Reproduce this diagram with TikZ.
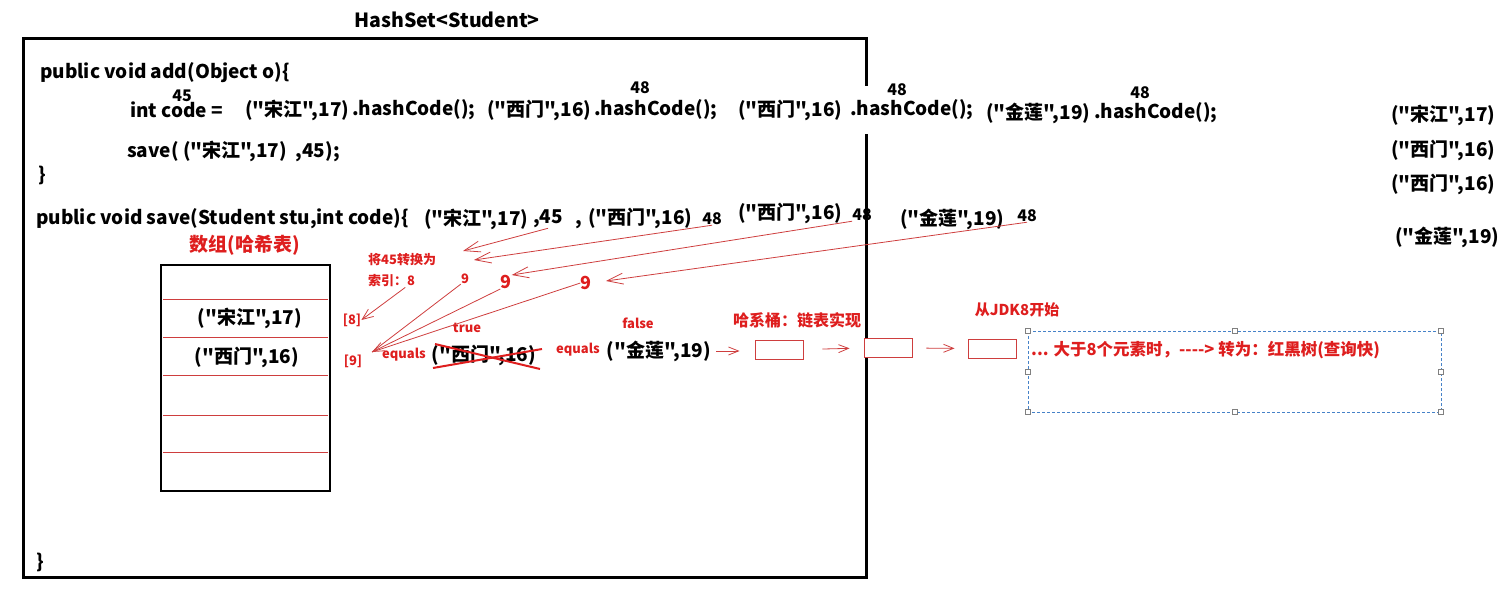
\documentclass[tikz,border=0pt]{standalone}
\usepackage{fontspec}
\newfontfamily\yahei{Noto Sans CJK SC}
\usetikzlibrary{arrows.meta}
\definecolor{inkred}{RGB}{222,30,30}
\definecolor{penred}{RGB}{206,62,62}
\definecolor{selblue}{RGB}{70,130,200}

\begin{document}
\begin{tikzpicture}[x=1pt, y=-1pt,
  code/.style={font=\yahei\fontsize{19}{21}\selectfont\bfseries, inner sep=0pt},
  num/.style={font=\yahei\fontsize{16}{18}\selectfont\bfseries, inner sep=0pt},
  note/.style={text=inkred, font=\yahei\fontsize{13}{15}\selectfont\bfseries, inner sep=0pt},
  bignote/.style={text=inkred, font=\yahei\fontsize{18}{20}\selectfont\bfseries, inner sep=0pt},
  headnote/.style={text=inkred, font=\yahei\fontsize{16}{18}\selectfont\bfseries, inner sep=0pt},
  pen/.style={draw=penred, line width=0.8pt, -{Straight Barb[length=16pt,width=11pt]}},
  slot/.style={draw=penred, line width=0.9pt, minimum width=48pt, minimum height=19pt, inner sep=0pt},
  chain/.style={draw=penred, line width=0.8pt, -{Straight Barb[length=10pt,width=8pt]}},
  handle/.style={draw=gray, fill=white, line width=0.6pt, minimum size=5pt, inner sep=0pt},
]
\useasboundingbox (0,0) rectangle (1510,613);

\node[code, font=\yahei\fontsize{19.5}{21}\selectfont\bfseries] (title) at (447,20) {HashSet<Student>};
\draw[line width=3pt] (23,38) rectangle (866,577);

\node[code, anchor=west] (addsig) at (40,73) {public void add(Object o)\{};
\node[num] (h45) at (182,96) {45};
\node[code, anchor=west] (intcode) at (130,110) {int code =};
\node[code, anchor=west] (sj1) at (245,110) {("宋江",17)};
\node[code, anchor=west] (hash1) at (352,110) {.hashCode();};
\node[code, anchor=west] (xm1) at (487,110) {("西门",16)};
\node[code, anchor=west] (hash2) at (594,110) {.hashCode();};
\node[num] (h48a) at (640,88) {48};
\node[code, anchor=west] (xm2) at (738,110) {("西门",16)};
\node[code, anchor=west, fill=white, inner ysep=14pt] (hash3) at (850,110) {.hashCode();};
\node[num] (h48b) at (897,90) {48};
\node[code, anchor=west] (jl1) at (986,113) {("金莲",19)};
\node[code, anchor=west] (hash4) at (1094,113) {.hashCode();};
\node[num] (h48c) at (1140,93) {48};
\node[code, anchor=west] (savecall) at (127,151) {save( ("宋江",17)\ \ ,45);};
\node[code, anchor=west] (addend) at (38,175) {\}};

\node[code, anchor=west] (savesig) at (36,219) {public void save(Student stu,int code)\{};
\node[code, anchor=west] (arg1) at (424,219) {("宋江",17)};
\node[code, anchor=west] (c45) at (533,219) {,45};
\node[code] (comma) at (579,225) {,};
\node[code, anchor=west] (arg2) at (588,218) {("西门",16)};
\node[num] (k48a) at (712,219) {48};
\node[code, anchor=west] (arg3) at (738,213) {("西门",16)};
\node[num] (k48b) at (862,215) {48};
\node[code, anchor=west] (arg4) at (900,219) {("金莲",19)};
\node[num] (k48c) at (1027,216) {48};

\node[code, anchor=west] (set1) at (1391,115) {("宋江",17)};
\node[code, anchor=west] (set2) at (1391,150) {("西门",16)};
\node[code, anchor=west] (set3) at (1391,184) {("西门",16)};
\node[code, anchor=west] (set4) at (1395,237) {("金莲",19)};

% the array
\node[bignote, font=\yahei\fontsize{19}{21}\selectfont\bfseries] (arrtitle) at (245,245) {数组(哈希表)};
\draw[line width=2pt] (161,265) rectangle (330,491);
\draw[penred, line width=0.9pt] (163,299) -- (328,299);
\draw[penred, line width=0.9pt] (163,337) -- (328,337);
\draw[penred, line width=0.9pt] (163,375) -- (328,375);
\draw[penred, line width=0.9pt] (163,415) -- (328,415);
\draw[penred, line width=0.9pt] (163,452) -- (328,452);
\node[code] (slot8) at (250,318) {("宋江",17)};
\node[code] (slot9) at (247,357) {("西门",16)};
\node[code, anchor=west] (saveend) at (36,562) {\}};

% index and equals
\node[note, anchor=west] (conv) at (368,260) {将45转换为};
\node[note, anchor=west] (idx) at (368,281) {索引：8};
\node[note] (b8) at (352,320) {[8]};
\node[note] (b9) at (353,361) {[9]};
\node[note] (nine1) at (465,279) {9};
\node[bignote] (nine2) at (506,282) {9};
\node[bignote] (nine3) at (586,283) {9};
\node[note] (eqtrue) at (467,328) {true};
\node[note] (eq1) at (404,355) {equals};
\node[code] (xm3) at (484,355) {("西门",16)};
\draw[inkred, line width=2pt] (435,344) -- (540,369);
\draw[inkred, line width=2pt] (433,368) -- (542,349);
\node[note] (eqfalse) at (638,323) {false};
\node[note] (eq2) at (578,350) {equals};
\node[code] (jl2) at (659,351) {("金莲",19)};

\coordinate (t45) at (463,251);
\coordinate (t48a) at (474,260);
\coordinate (t48c) at (606,281);
\coordinate (in9) at (372,352);
\draw[pen] (c45.south) -- (t45);
\draw[pen] (k48a.south) -- (t48a);
\draw[pen] (k48b.south west) -- (nine2.north east);
\draw[pen] (k48c.south) -- (t48c);
\draw[pen, -{Straight Barb[length=11pt,width=9pt]}] ([xshift=-10pt]idx.south east) -- (b8.east);
\draw[penred, line width=0.8pt] (nine1.south west) -- (in9);
\draw[pen, -{Straight Barb[length=11pt,width=9pt]}] (nine2.south west) -- (in9);
\draw[penred, line width=0.8pt] (nine3.west) -- (in9);

% bucket chain
\node[headnote, fill=white, inner sep=4pt] (bucket) at (797,320) {哈系桶：链表实现};
\node[headnote, font=\yahei\fontsize{15}{17}\selectfont\bfseries] (jdk8) at (1017,310) {从JDK8开始};
\node[slot] (n1) at (779,349.5) {};
\node[slot, fill=white] (n2) at (888,348) {};
\node[slot] (n3) at (992,348.5) {};
\draw[chain, shorten <=5pt, shorten >=15pt] (jl2.east) -- (jl2.east -| n1.west);
\draw[chain, shorten <=19pt, shorten >=14pt] (n1.east) -- (n2.west);
\draw[chain, shorten <=14pt, shorten >=13pt] (n2.east) -- (n3.west);

\draw[selblue, dash pattern=on 3pt off 2pt, line width=0.9pt] (1028,331) rectangle (1441,412);
\node[handle] (hnw) at (1028,331) {};
\node[handle] (hn) at (1235,331) {};
\node[handle] (hne) at (1441,331) {};
\node[handle] (hw) at (1028,372) {};
\node[handle] (he) at (1441,372) {};
\node[handle] (hsw) at (1028,412) {};
\node[handle] (hs) at (1235,412) {};
\node[handle] (hse) at (1441,412) {};
\node[headnote, font=\yahei\fontsize{16.5}{18}\selectfont\bfseries, anchor=west] (tree) at (1031,350) {... 大于8个元素时，----> 转为：红黑树(查询快)};

\end{tikzpicture}
\end{document}
